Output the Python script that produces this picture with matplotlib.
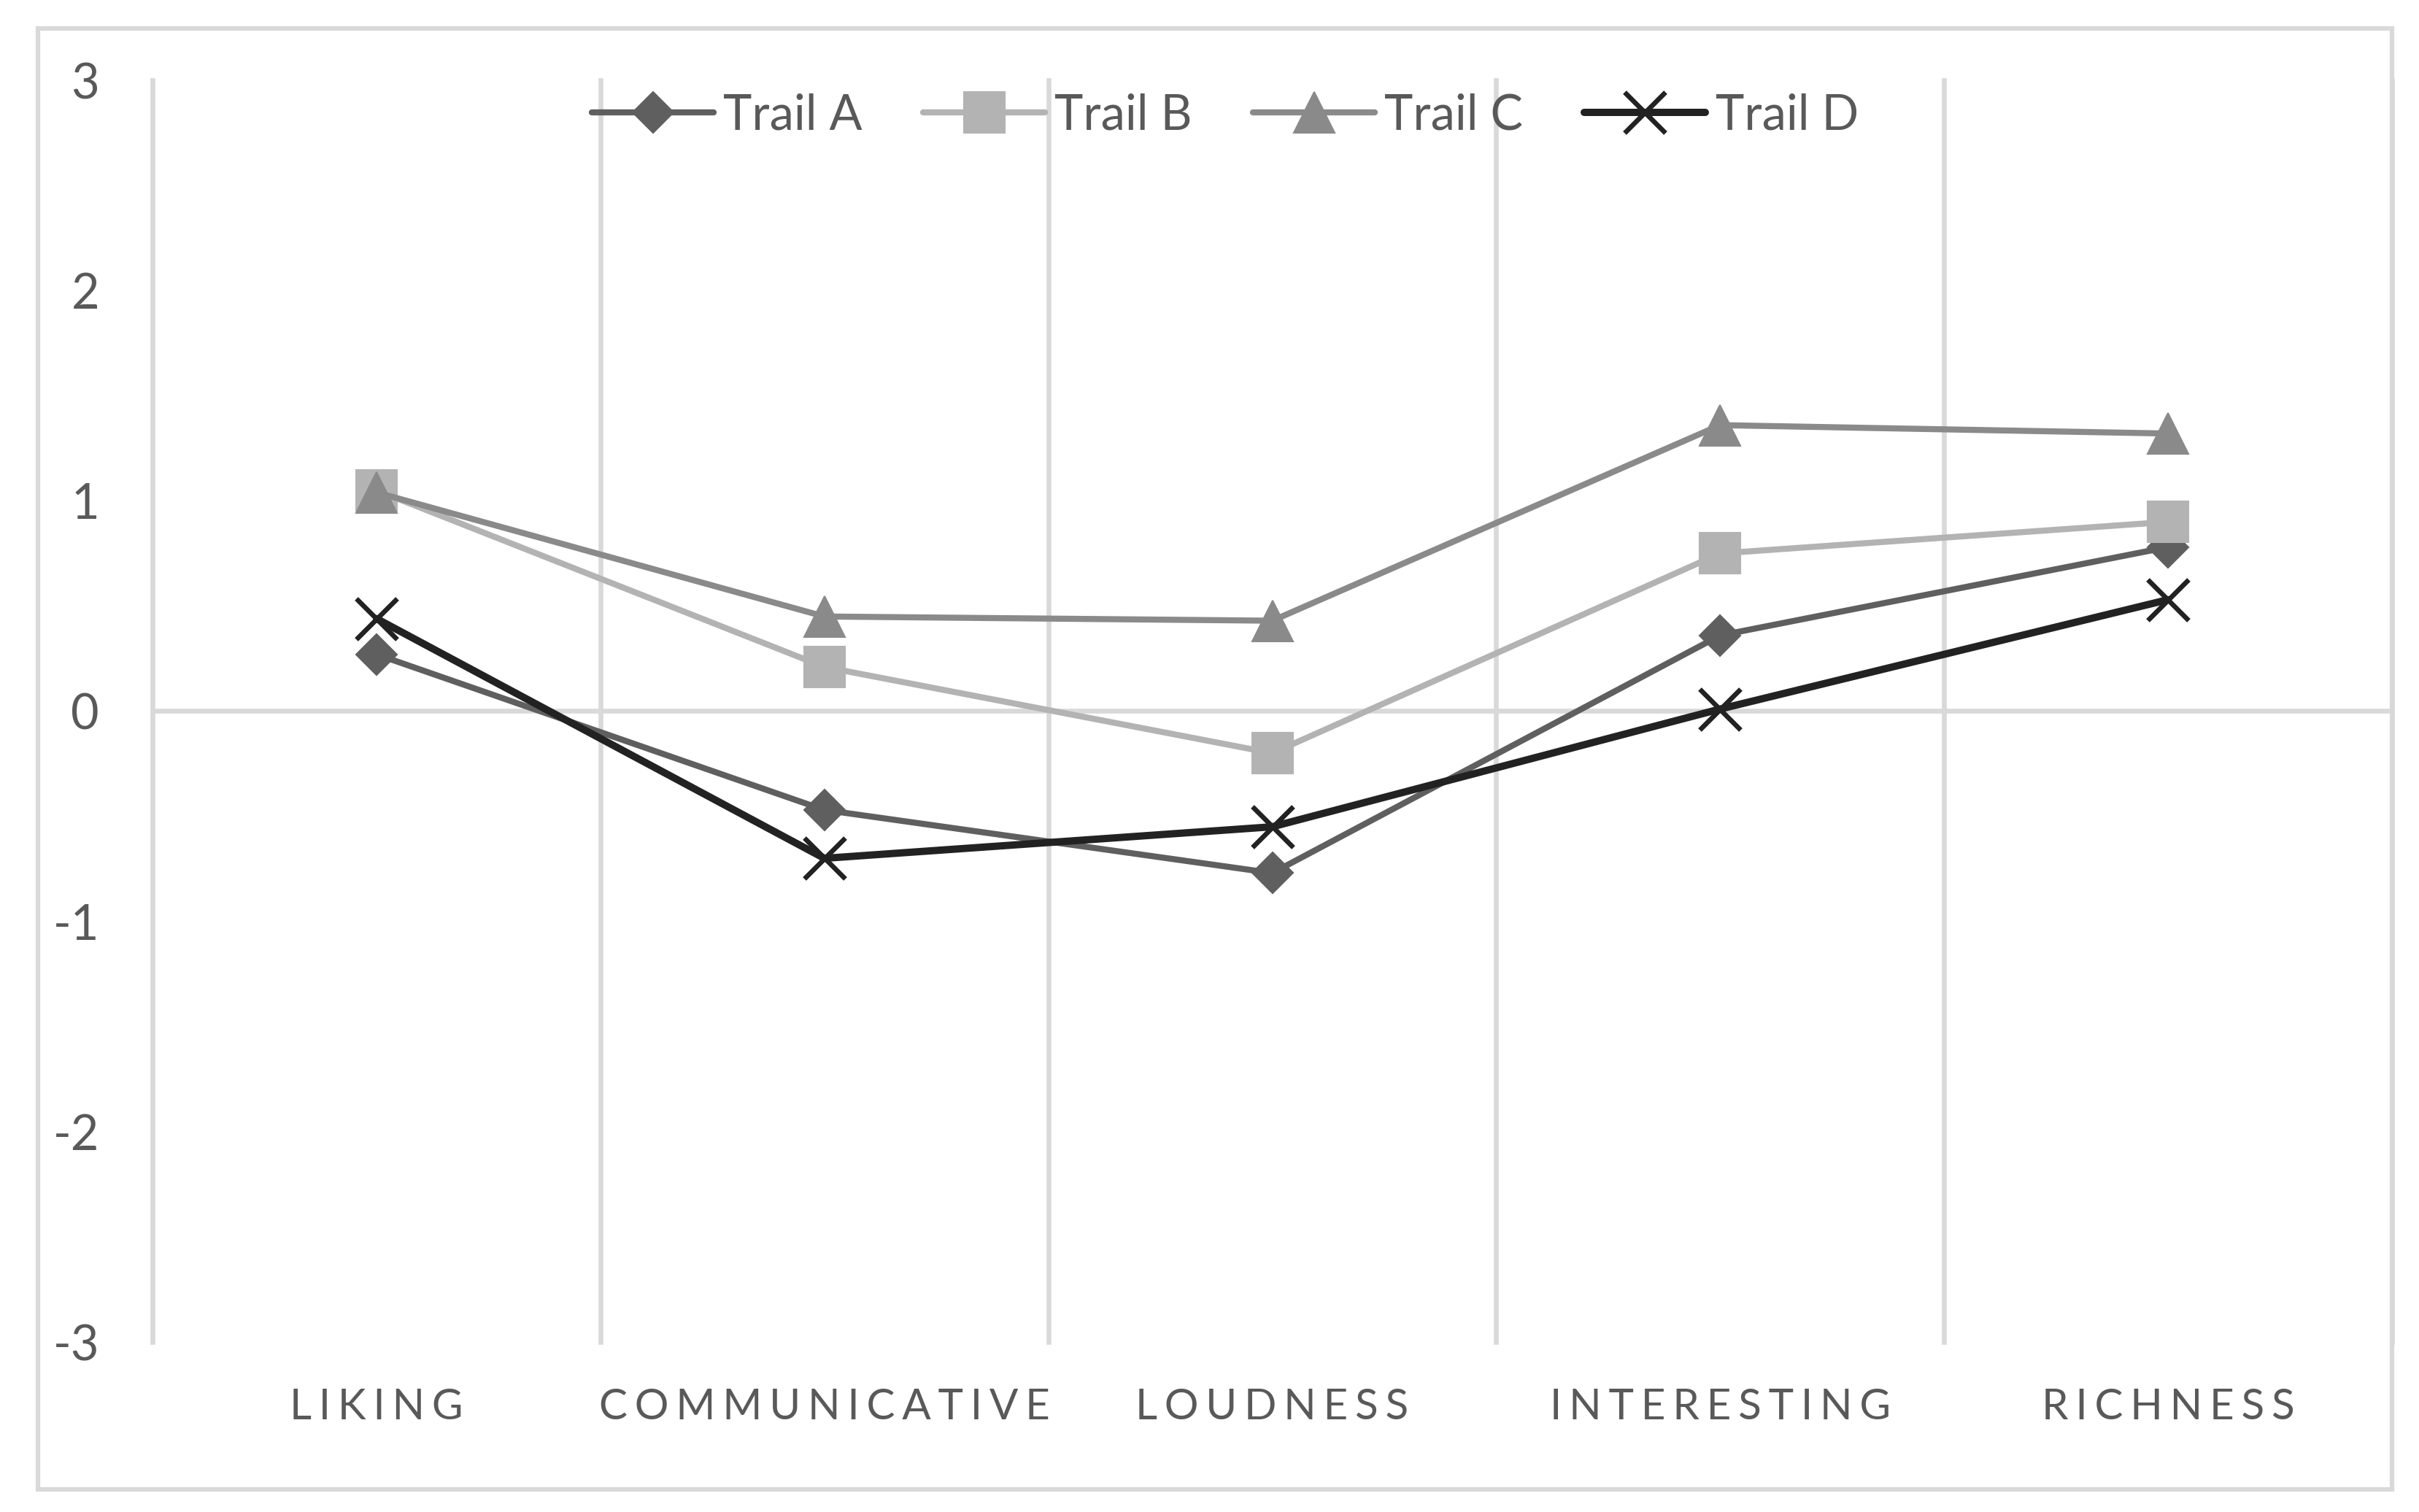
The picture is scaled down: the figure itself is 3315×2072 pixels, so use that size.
import numpy as np
import matplotlib
matplotlib.use('Agg')
import matplotlib.pyplot as plt
from matplotlib.patches import Rectangle

plt.rcParams['font.family'] = ['Lato', 'DejaVu Sans']
plt.rcParams['axes.unicode_minus'] = False

# Data
categories = ['LIKING', 'COMMUNICATIVE', 'LOUDNESS', 'INTERESTING', 'RICHNESS']
trail_a = [0.27, -0.47, -0.77, 0.36, 0.78]
trail_b = [1.05, 0.21, -0.20, 0.75, 0.90]
trail_c = [1.04, 0.45, 0.43, 1.36, 1.32]
trail_d = [0.44, -0.70, -0.55, 0.01, 0.53]
series_names = ['Trail A', 'Trail B', 'Trail C', 'Trail D']
y_ticks = [-3, -2, -1, 0, 1, 2, 3]

grid_col = '#d9d9d9'
text_col = '#595959'

fig = plt.figure(figsize=(11.05, 6.9067), dpi=300)
ax = fig.add_axes([0.06305, 0.11245, 0.92579, 0.83446])

x = np.arange(1, len(categories) + 1)

# style per series: colour, marker, markersize, linewidth
styles = [
    ('#5f5f5f', 'D', 9.5, 2.0),
    ('#b3b3b3', 's', 13.5, 2.0),
    ('#8a8a8a', '^', 13.5, 2.0),
    ('#222222', 'x', 13.5, 2.4),
]
data = [trail_a, trail_b, trail_c, trail_d]

for vals, name, (col, mk, ms, lw) in zip(data, series_names, styles):
    ax.plot(x, vals, color=col, lw=lw, marker=mk, ms=ms,
            mfc=col, mec=col, mew=1.6 if mk == 'x' else 0.5,
            label=name, zorder=3, solid_capstyle='round')

# category boundary lines and zero line
for b in np.arange(0.5, len(categories) + 1, 1.0):
    ax.axvline(b, color=grid_col, lw=1.6, zorder=1, clip_on=False)
ax.axhline(0, color=grid_col, lw=1.6, zorder=1)

ax.set_xlim(0.5, len(categories) + 0.5)
ax.set_ylim(-3, 3)
ax.set_yticks(y_ticks)
ax.set_yticklabels([str(t) for t in y_ticks])
ax.set_xticks(x)
# spaced capitals like the original (narrow space between letters)
ax.set_xticklabels(['\u2006'.join(c) for c in categories])
ax.tick_params(axis='y', length=0, pad=17.5, labelsize=16, labelcolor=text_col)
ax.tick_params(axis='x', length=0, pad=15, labelsize=14, labelcolor=text_col)
for s in ax.spines.values():
    s.set_visible(False)

leg = fig.legend(loc='center', bbox_to_anchor=(0.5065, 0.9237), ncol=4,
                 frameon=False, fontsize=16, handlelength=2.5,
                 handletextpad=0.2, columnspacing=1.25, labelcolor=text_col)

# outer chart border
fig.patches.append(Rectangle((0.01569, 0.01496), 0.97315, 0.96622,
                             transform=fig.transFigure, fill=False,
                             edgecolor=grid_col, lw=1.5, zorder=0))

plt.savefig('out.png', dpi=300)
